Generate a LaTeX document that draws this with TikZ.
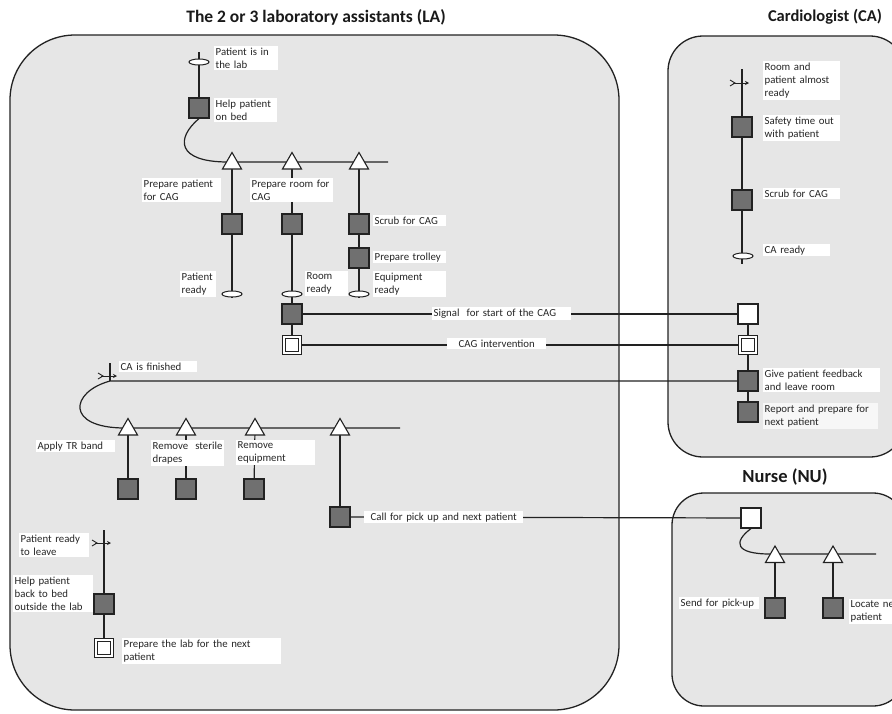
\documentclass[tikz,border=0pt]{standalone}
\usepackage{fontspec}
\setmainfont{Carlito}
\usetikzlibrary{shapes.geometric,arrows.meta}
\hyphenpenalty=10000
\exhyphenpenalty=10000
\pgfdeclarelayer{panels}
\pgfdeclarelayer{flows}
\pgfsetlayers{panels,flows,main}
\definecolor{panelgray}{HTML}{E6E6E6}
\definecolor{taskgray}{HTML}{707070}
\definecolor{inkline}{HTML}{222222}
\begin{document}
\begin{tikzpicture}[x=1pt,y=-1pt,
  panel/.style={draw=inkline,fill=panelgray,line width=1.3pt},
  task/.style={rectangle,draw=inkline,fill=taskgray,line width=1.1pt,minimum size=20pt,inner sep=0pt},
  msg/.style={rectangle,draw=inkline,fill=white,line width=1.1pt,minimum size=20pt,inner sep=0pt},
  endbox/.style={rectangle,draw=inkline,fill=white,line width=1.1pt,double=white,double distance=2pt,minimum size=15.5pt,inner sep=0pt},
  gate/.style={regular polygon,regular polygon sides=3,draw=inkline,fill=white,line width=1.1pt,minimum size=22pt,inner sep=0pt},
  evt/.style={ellipse,draw=inkline,fill=white,line width=1pt,minimum width=20pt,minimum height=6pt,inner sep=0pt},
  lbl/.style={fill=white,inner sep=1.5pt,anchor=north west,align=left,
    font=\fontsize{10.8}{13.3}\selectfont,text=black!85},
  lblc/.style={lbl,align=center},
  title/.style={font=\bfseries\fontsize{#1}{20}\selectfont,text=black!90},
  title/.default=17,
  flow/.style={draw=inkline,line width=1.2pt},
  evmark/.pic={
    \draw[inkline,line width=0.9pt] (-12,-3) -- (-7,0) -- (-12,3);
    \draw[inkline,line width=0.9pt,-{Stealth[length=4pt,width=4pt]}] (-9,0) -- (7,0);
  }]
\useasboundingbox (0,0) rectangle (892,713);

% swimlane panels
\begin{pgfonlayer}{panels}
  \path[panel,rounded corners=65pt] (10,35) rectangle (619,710);
  \path[panel,rounded corners=35pt] (668,36) rectangle (905,457);
  \path[panel,rounded corners=32pt] (672,493) rectangle (905,706);
\end{pgfonlayer}

% lane titles
\node[title=17.5] (ttl-la) at (316,17) {The 2 or 3 laboratory assistants (LA)};
\node[title=16.5] (ttl-ca) at (825,17) {Cardiologist (CA)};
\node[title=18.5] (ttl-nu) at (785,477) {Nurse (NU)};

% ---------- laboratory assistants: preparation ----------
\coordinate (in-top) at (199,52);
\node[evt] (evt-in) at (199,62) {};
\node[task] (t-bed) at (199,108) {};
\coordinate (bar1-start) at (228,162);
\coordinate (bar1-end) at (388,162);
\node[gate] (g1) at (232,163.5) {};
\node[gate] (g2) at (292,163.5) {};
\node[gate] (g3) at (359,163.5) {};
\node[task] (t-prep-pat) at (232,224) {};
\node[task] (t-prep-room) at (292,224) {};
\node[task] (t-scrub) at (359,224) {};
\node[task] (t-trolley) at (359,258) {};
\coordinate (pat-tail) at (232,298);
\coordinate (eq-tail) at (359,298);
\node[evt] (evt-pat) at (232,294) {};
\node[evt] (evt-room) at (292,294) {};
\node[evt] (evt-eq) at (359,294) {};
\node[task] (t-signal) at (292,314) {};
\node[endbox] (end-cag) at (292,345) {};

% ---------- cardiologist ----------
\coordinate (ca-top) at (742,69);
\pic at (742,83) {evmark};
\node[task] (t-safety) at (742,127) {};
\node[task] (t-scrub-ca) at (742,200) {};
\coordinate (ca-tail) at (742,264);
\node[evt] (evt-ca) at (743,256) {};
\node[msg] (m-signal) at (748,314) {};
\node[endbox] (end-cag-ca) at (748,345) {};
\node[task] (t-feedback) at (748,381) {};
\node[task] (t-report) at (748,412) {};

% ---------- laboratory assistants: after the CAG ----------
\coordinate (fin-top) at (110,363);
\coordinate (fin) at (110,381);
\pic at (110,376) {evmark};
\coordinate (bar2-start) at (125,428);
\coordinate (bar2-end) at (400,428);
\node[gate] (g4) at (128,429.5) {};
\node[gate] (g5) at (186,429.5) {};
\node[gate] (g6) at (255,429.5) {};
\node[gate] (g7) at (340,429.5) {};
\node[task] (t-tr) at (128,489) {};
\node[task] (t-drapes) at (186,489) {};
\node[task] (t-equip) at (254,489) {};
\node[task] (t-call) at (340,517) {};

\coordinate (leave-top) at (104,530);
\pic at (104,543) {evmark};
\node[task] (t-back) at (104,604) {};
\node[endbox] (end-lab) at (104,648) {};

% ---------- nurse ----------
\node[msg] (m-call) at (751,518) {};
\coordinate (bar3-start) at (770,554);
\coordinate (bar3-end) at (876,554);
\node[gate] (g8) at (775,557) {};
\node[gate] (g9) at (833,557) {};
\node[task] (t-send) at (775,608) {};
\node[task] (t-locate) at (833,608) {};

% ---------- connectors ----------
\begin{pgfonlayer}{flows}
  \draw[flow] (in-top) -- (t-bed);
  \draw[flow] (t-bed.south) .. controls (176,138) and (176,162) .. (bar1-start) -- (bar1-end);
  \draw[flow] (g1.center) -- (t-prep-pat) -- (pat-tail);
  \draw[flow] (g2.center) -- (t-prep-room) -- (t-signal) -- (end-cag);
  \draw[flow] (g3.center) -- (t-scrub) -- (t-trolley) -- (eq-tail);
  \draw[flow] (t-signal) -- (m-signal);
  \draw[flow] (end-cag) -- (end-cag-ca);
  \draw[flow] (ca-top) -- (t-safety) -- (t-scrub-ca) -- (ca-tail);
  \draw[flow] (m-signal) -- (end-cag-ca) -- (t-feedback) -- (t-report);
  \draw[flow] (fin-top) -- (fin);
  \draw[flow] (t-feedback) -- (fin) .. controls (70,392) and (65,428) .. (bar2-start) -- (bar2-end);
  \draw[flow] (g4.center) -- (t-tr);
  \draw[flow] (g5.center) -- (t-drapes);
  \draw[flow] (g6.center) -- (t-equip);
  \draw[flow] (g7.center) -- (t-call);
  \draw[flow] (t-call) -- (m-call);
  \draw[flow] (leave-top) -- (t-back) -- (end-lab);
  \draw[flow] (m-call.south) .. controls (733,542) and (735,554) .. (bar3-start) -- (bar3-end);
  \draw[flow] (g8.center) -- (t-send);
  \draw[flow] (g9.center) -- (t-locate);
\end{pgfonlayer}

% ---------- labels ----------
\node[lbl,text width=61pt] (l-in) at (214,46) {Patient is in\\the lab};
\node[lbl,text width=60pt] (l-bed) at (214,98) {Help patient\\on bed};
\node[lbl,text width=76pt] (l-prep-pat) at (142,178) {Prepare patient\\for CAG};
\node[lbl,text width=80pt] (l-prep-room) at (250,178) {Prepare room for\\CAG};
\node[lbl,text width=70pt] (l-scrub) at (373,215) {Scrub for CAG};
\node[lbl,text width=70pt] (l-trolley) at (373,251) {Prepare trolley};
\node[lbl,text width=70pt] (l-eq) at (373,271) {Equipment\\ready};
\node[lbl,text width=33pt] (l-pat) at (180,271) {Patient\\ready};
\node[lbl,text width=40pt] (l-room) at (305,271) {Room\\ready};
\node[lbl,text width=136pt] (l-signal) at (432,307) {Signal\ \ for start of the CAG};
\node[lblc,text width=96pt] (l-cag) at (447,338) {CAG intervention};

\node[lbl,text width=74pt] (l-ca-almost) at (763,61) {Room and\\patient almost\\ready};
\node[lbl,text width=74pt] (l-safety) at (763,115) {Safety time out\\with patient};
\node[lbl,text width=74pt] (l-scrub-ca) at (763,188) {Scrub for CAG};
\node[lbl,text width=64pt] (l-ca-ready) at (763,244) {CA ready};
\node[lbl,text width=114pt] (l-feedback) at (763,368) {Give patient feedback\\and leave room};
\node[lbl,text width=112pt,fill=white!97!black] (l-report) at (763,403) {Report and prepare for\\next patient};

\node[lbl,text width=75pt] (l-fin) at (119,361) {CA is finished};
\node[lbl,text width=76pt] (l-tr) at (36,440) {Apply TR band};
\node[lbl,text width=70pt] (l-drapes) at (151,440) {Remove\ \ sterile\\drapes};
\node[lbl,text width=76pt] (l-equip) at (236,440) {Remove\\equipment};
\node[lblc,text width=156pt] (l-call) at (364,511) {Call for pick up and next patient};
\node[lbl,text width=67pt] (l-leave) at (19,533) {Patient ready\\to leave};
\node[lbl,text width=77pt] (l-back) at (13,575) {Help patient\\back to bed\\outside the lab};
\node[lbl,text width=156pt] (l-lab) at (122,638) {Prepare the lab for the next\\patient};

\node[lbl,text width=77pt] (l-send) at (679,597) {Send for pick-up};
\node[lbl,text width=60pt] (l-locate) at (849,599) {Locate next\\patient};
\end{tikzpicture}
\end{document}
